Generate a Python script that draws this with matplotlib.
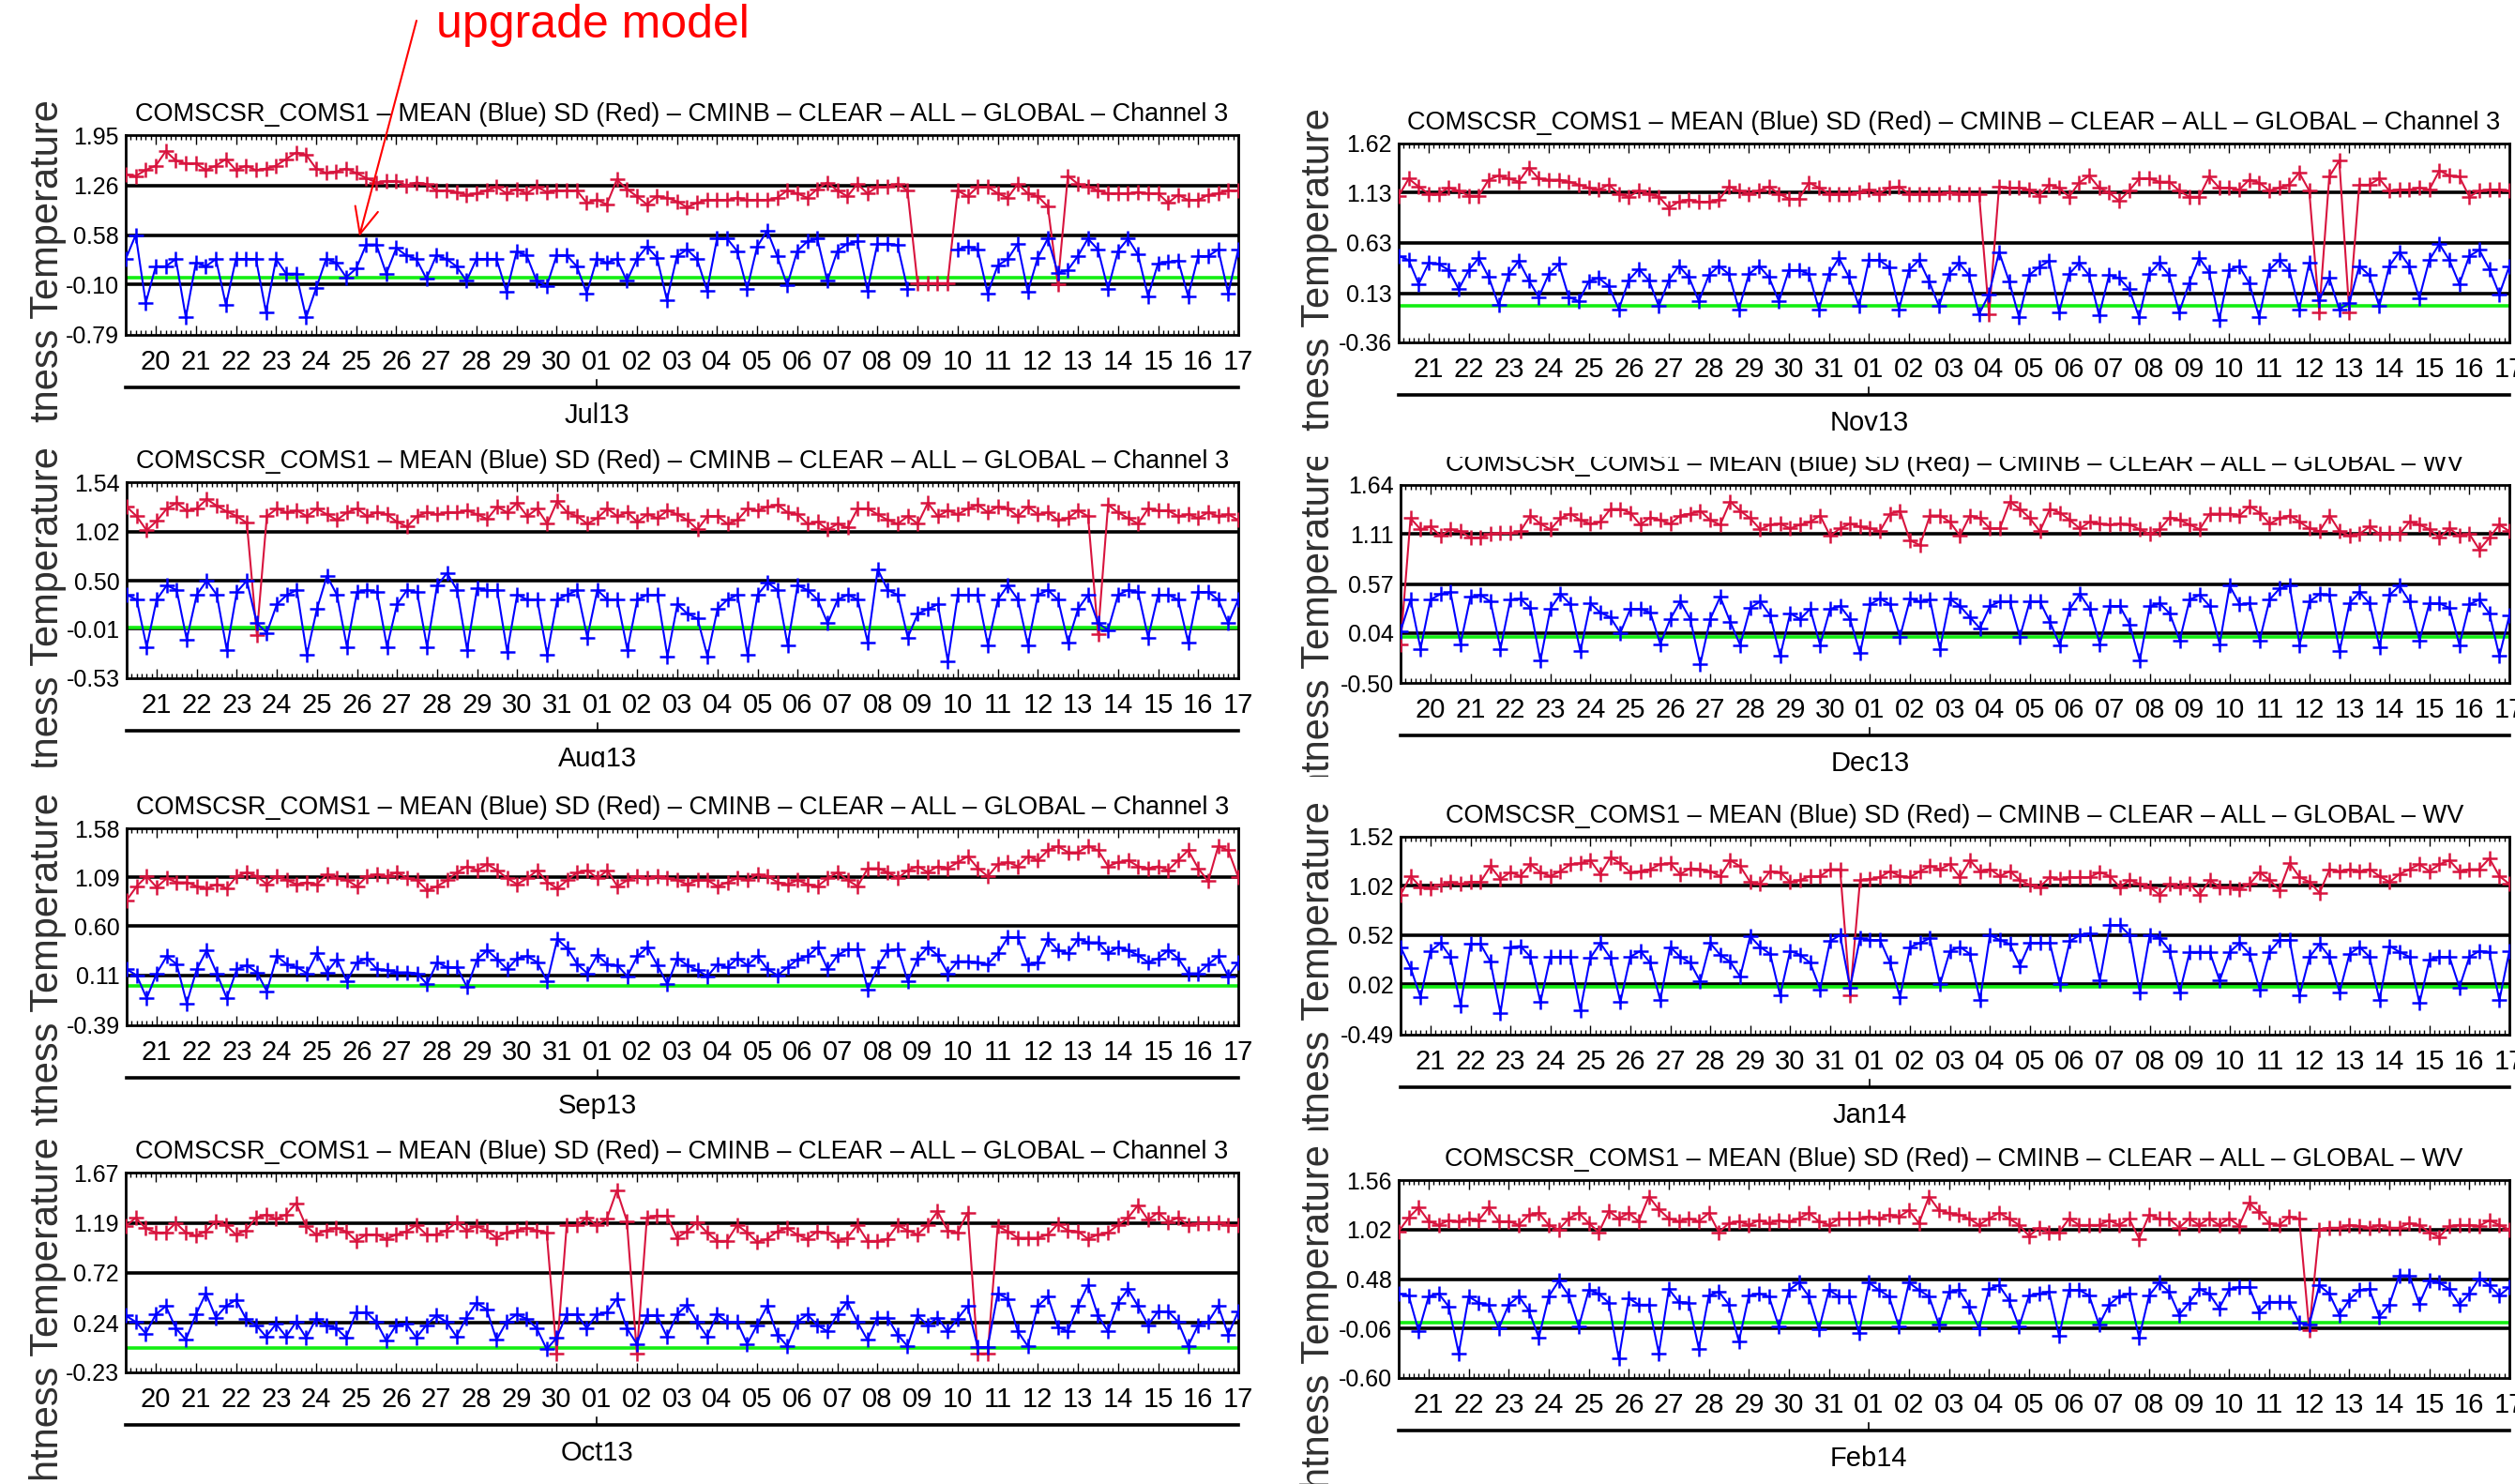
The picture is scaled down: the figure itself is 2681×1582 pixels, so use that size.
import numpy as np
import matplotlib
matplotlib.use("Agg")
import matplotlib.pyplot as plt
from matplotlib.transforms import Bbox, TransformedBbox
from matplotlib.ticker import FixedLocator, MultipleLocator

W, H, DPI = 2681, 1582, 100
IDL_FONT = ['Liberation Sans Narrow', 'Liberation Sans', 'DejaVu Sans']
LBL_FONT = ['Liberation Sans', 'DejaVu Sans']
nan = np.nan

# ---- monthly bias monitoring: 6-hourly MEAN (blue) and SD (red) ----
jul_ticks = [-0.79, -0.10, 0.58, 1.26, 1.95]
jul_mean = [
    0.25, 0.58, -0.35, 0.15, 0.15, 0.25, -0.55, 0.20, 0.15, 0.25, -0.38, 0.25, 0.25, 0.25, -0.48, 0.25,
    0.05, 0.05, -0.55, -0.15, 0.25, 0.20, 0.00, 0.12, 0.45, 0.45, 0.05, 0.40, 0.30, 0.25, -0.02, 0.30,
    0.25, 0.15, -0.05, 0.25, 0.25, 0.25, -0.20, 0.35, 0.30, -0.05, -0.12, 0.30, 0.30, 0.15, -0.22, 0.25,
    0.20, 0.25, -0.05, 0.25, 0.42, 0.27, -0.31, 0.29, 0.38, 0.25, -0.18, 0.53, 0.53, 0.36, -0.16, 0.42,
    0.64, 0.29, -0.11, 0.36, 0.49, 0.53, -0.05, 0.36, 0.46, 0.49, -0.18, 0.46, 0.46, 0.44, -0.16, nan,
    nan, nan, nan, 0.38, 0.42, 0.38, -0.22, 0.16, 0.25, 0.46, -0.20, 0.27, 0.53, 0.06, 0.10, 0.29,
    0.53, 0.38, -0.16, 0.36, 0.53, 0.31, -0.26, 0.19, 0.21, 0.23, -0.26, 0.29, 0.29, 0.38, -0.22, 0.38]
jul_sd = [
    1.41, 1.39, 1.47, 1.53, 1.73, 1.60, 1.56, 1.56, 1.47, 1.53, 1.62, 1.47, 1.53, 1.47, 1.49, 1.53,
    1.62, 1.71, 1.68, 1.49, 1.43, 1.45, 1.49, 1.43, 1.36, 1.30, 1.32, 1.32, 1.26, 1.30, 1.28, 1.19,
    1.19, 1.17, 1.13, 1.15, 1.19, 1.24, 1.15, 1.21, 1.15, 1.24, 1.17, 1.19, 1.19, 1.19, 1.02, 1.06,
    1.00, 1.34, 1.21, 1.11, 1.00, 1.11, 1.09, 1.04, 0.96, 1.02, 1.06, 1.06, 1.06, 1.09, 1.06, 1.06,
    1.06, 1.09, 1.19, 1.15, 1.09, 1.21, 1.30, 1.19, 1.11, 1.28, 1.15, 1.24, 1.24, 1.28, 1.19, -0.08,
    -0.08, -0.08, -0.08, 1.19, 1.11, 1.24, 1.24, 1.15, 1.09, 1.28, 1.15, 1.11, 0.97, -0.09, 1.39, 1.28,
    1.24, 1.19, 1.15, 1.15, 1.15, 1.17, 1.15, 1.15, 1.02, 1.13, 1.06, 1.06, 1.13, 1.15, 1.19, 1.19]

aug_ticks = [-0.53, -0.01, 0.50, 1.02, 1.54]
aug_mean = [
    0.35, 0.30, -0.20, 0.30, 0.45, 0.40, -0.12, 0.35, 0.50, 0.35, -0.23, 0.38, 0.50, 0.05, -0.05, 0.25,
    0.35, 0.40, -0.28, 0.20, 0.55, 0.35, -0.20, 0.38, 0.40, 0.38, -0.20, 0.25, 0.40, 0.38, -0.20, 0.45,
    0.58, 0.40, -0.23, 0.42, 0.40, 0.40, -0.25, 0.35, 0.30, 0.30, -0.28, 0.30, 0.35, 0.40, -0.10, 0.40,
    0.30, 0.30, -0.23, 0.30, 0.35, 0.35, -0.30, 0.25, 0.15, 0.10, -0.30, 0.20, 0.30, 0.35, -0.28, 0.35,
    0.48, 0.40, -0.18, 0.45, 0.40, 0.30, 0.05, 0.30, 0.35, 0.30, -0.15, 0.62, 0.40, 0.35, -0.10, 0.15,
    0.20, 0.25, -0.35, 0.35, 0.35, 0.35, -0.18, 0.30, 0.45, 0.30, -0.18, 0.35, 0.40, 0.30, -0.15, 0.20,
    0.35, 0.05, -0.02, 0.35, 0.40, 0.38, -0.10, 0.35, 0.35, 0.30, -0.15, 0.38, 0.38, 0.30, 0.05, 0.30]
aug_sd = [
    1.28, 1.18, 1.03, 1.13, 1.26, 1.32, 1.24, 1.26, 1.36, 1.29, 1.23, 1.18, 1.11, -0.07, 1.18, 1.26,
    1.22, 1.24, 1.18, 1.26, 1.20, 1.14, 1.22, 1.26, 1.18, 1.22, 1.20, 1.12, 1.07, 1.18, 1.22, 1.20,
    1.22, 1.22, 1.24, 1.20, 1.15, 1.28, 1.22, 1.32, 1.18, 1.26, 1.10, 1.34, 1.22, 1.18, 1.10, 1.16,
    1.26, 1.18, 1.22, 1.12, 1.20, 1.16, 1.24, 1.20, 1.14, 1.04, 1.18, 1.18, 1.10, 1.14, 1.26, 1.24,
    1.28, 1.30, 1.22, 1.20, 1.10, 1.12, 1.04, 1.10, 1.06, 1.26, 1.26, 1.20, 1.14, 1.10, 1.18, 1.10,
    1.32, 1.18, 1.24, 1.20, 1.26, 1.30, 1.22, 1.28, 1.26, 1.18, 1.28, 1.20, 1.22, 1.14, 1.16, 1.24,
    1.18, -0.06, 1.30, 1.22, 1.16, 1.10, 1.26, 1.24, 1.24, 1.18, 1.20, 1.16, 1.22, 1.18, 1.20, 1.14]

sep_ticks = [-0.39, 0.11, 0.60, 1.09, 1.58]
sep_mean = [
    0.17, 0.11, -0.12, 0.13, 0.30, 0.22, -0.17, 0.17, 0.36, 0.13, -0.12, 0.17, 0.21, 0.14, -0.05, 0.30,
    0.22, 0.19, 0.13, 0.33, 0.14, 0.27, 0.05, 0.24, 0.28, 0.17, 0.16, 0.14, 0.14, 0.13, 0.02, 0.24,
    0.19, 0.19, -0.01, 0.27, 0.36, 0.27, 0.17, 0.28, 0.30, 0.24, 0.05, 0.47, 0.38, 0.22, 0.13, 0.31,
    0.22, 0.21, 0.10, 0.30, 0.39, 0.21, 0.02, 0.28, 0.21, 0.16, 0.10, 0.22, 0.19, 0.28, 0.21, 0.30,
    0.17, 0.11, 0.19, 0.27, 0.30, 0.39, 0.17, 0.31, 0.37, 0.37, -0.03, 0.19, 0.36, 0.37, 0.05, 0.28,
    0.39, 0.31, 0.13, 0.25, 0.25, 0.24, 0.22, 0.33, 0.49, 0.49, 0.22, 0.24, 0.47, 0.36, 0.33, 0.47,
    0.44, 0.44, 0.33, 0.39, 0.36, 0.31, 0.24, 0.28, 0.36, 0.28, 0.13, 0.13, 0.22, 0.30, 0.10, 0.24]
sep_sd = [
    0.86, 1.00, 1.10, 0.99, 1.08, 1.04, 1.04, 1.00, 0.98, 1.02, 0.98, 1.10, 1.14, 1.10, 1.02, 1.10,
    1.06, 1.02, 1.04, 1.02, 1.12, 1.08, 1.06, 1.00, 1.10, 1.12, 1.10, 1.14, 1.08, 1.06, 0.96, 1.00,
    1.06, 1.14, 1.20, 1.16, 1.22, 1.16, 1.08, 1.02, 1.08, 1.16, 1.04, 0.98, 1.06, 1.14, 1.16, 1.08,
    1.16, 1.00, 1.06, 1.10, 1.08, 1.10, 1.08, 1.06, 1.02, 1.06, 1.06, 1.00, 1.04, 1.08, 1.06, 1.12,
    1.10, 1.04, 1.02, 1.06, 1.02, 1.00, 1.08, 1.14, 1.06, 1.00, 1.18, 1.18, 1.14, 1.08, 1.16, 1.20,
    1.14, 1.20, 1.18, 1.24, 1.30, 1.18, 1.10, 1.22, 1.24, 1.20, 1.30, 1.26, 1.36, 1.40, 1.34, 1.34,
    1.40, 1.36, 1.20, 1.24, 1.26, 1.20, 1.18, 1.20, 1.16, 1.26, 1.36, 1.18, 1.05, 1.40, 1.36, 1.09]

oct_ticks = [-0.23, 0.24, 0.72, 1.19, 1.67]
oct_mean = [
    0.31, 0.25, 0.14, 0.32, 0.40, 0.19, 0.08, 0.32, 0.52, 0.29, 0.40, 0.46, 0.28, 0.22, 0.11, 0.23,
    0.11, 0.25, 0.10, 0.28, 0.22, 0.19, 0.10, 0.34, 0.34, 0.25, 0.07, 0.22, 0.23, 0.10, 0.22, 0.31,
    0.25, 0.11, 0.29, 0.43, 0.37, 0.08, 0.25, 0.32, 0.28, 0.19, -0.01, 0.10, 0.32, 0.32, 0.19, 0.32,
    0.34, 0.47, 0.19, 0.04, 0.31, 0.31, 0.11, 0.32, 0.41, 0.25, 0.11, 0.32, 0.25, 0.25, 0.04, 0.22,
    0.40, 0.13, 0.02, 0.25, 0.32, 0.22, 0.16, 0.32, 0.44, 0.25, 0.08, 0.29, 0.29, 0.13, 0.02, 0.31,
    0.22, 0.29, 0.16, 0.28, 0.40, 0.01, 0.01, 0.52, 0.47, 0.16, 0.02, 0.40, 0.49, 0.20, 0.16, 0.40,
    0.60, 0.31, 0.16, 0.43, 0.56, 0.40, 0.22, 0.35, 0.35, 0.25, 0.02, 0.22, 0.25, 0.40, 0.13, 0.35]
oct_sd = [
    1.16, 1.24, 1.14, 1.10, 1.10, 1.19, 1.10, 1.07, 1.11, 1.21, 1.17, 1.08, 1.12, 1.24, 1.27, 1.23,
    1.27, 1.38, 1.16, 1.08, 1.12, 1.14, 1.11, 1.02, 1.08, 1.08, 1.04, 1.08, 1.11, 1.17, 1.08, 1.08,
    1.12, 1.20, 1.12, 1.16, 1.12, 1.05, 1.10, 1.12, 1.14, 1.12, 1.10, -0.05, 1.17, 1.17, 1.24, 1.17,
    1.23, 1.50, 1.21, -0.05, 1.24, 1.26, 1.26, 1.05, 1.11, 1.20, 1.10, 1.02, 1.02, 1.17, 1.10, 1.01,
    1.04, 1.11, 1.14, 1.08, 1.04, 1.11, 1.10, 1.02, 1.05, 1.17, 1.02, 1.02, 1.04, 1.17, 1.12, 1.08,
    1.17, 1.30, 1.12, 1.10, 1.29, -0.05, -0.05, 1.16, 1.11, 1.05, 1.05, 1.05, 1.08, 1.18, 1.12, 1.11,
    1.04, 1.08, 1.10, 1.17, 1.24, 1.36, 1.22, 1.29, 1.20, 1.24, 1.17, 1.19, 1.19, 1.20, 1.17, 1.17]

nov_ticks = [-0.36, 0.13, 0.63, 1.13, 1.62]
nov_mean = [
    0.50, 0.46, 0.22, 0.43, 0.42, 0.36, 0.17, 0.36, 0.48, 0.29, 0.01, 0.32, 0.45, 0.26, 0.09, 0.32,
    0.42, 0.09, 0.05, 0.25, 0.28, 0.20, -0.03, 0.26, 0.37, 0.26, 0.00, 0.26, 0.40, 0.29, 0.05, 0.31,
    0.40, 0.32, -0.03, 0.32, 0.40, 0.29, 0.05, 0.36, 0.36, 0.32, -0.03, 0.32, 0.48, 0.29, 0.00, 0.46,
    0.46, 0.39, -0.03, 0.36, 0.46, 0.25, 0.00, 0.32, 0.43, 0.31, -0.08, 0.12, 0.54, 0.25, -0.11, 0.31,
    0.39, 0.45, -0.06, 0.32, 0.43, 0.31, -0.09, 0.31, 0.28, 0.17, -0.11, 0.32, 0.43, 0.31, -0.06, 0.23,
    0.48, 0.34, -0.14, 0.36, 0.40, 0.23, -0.11, 0.36, 0.46, 0.36, -0.03, 0.43, 0.06, 0.28, -0.03, 0.03,
    0.40, 0.31, 0.00, 0.40, 0.54, 0.40, 0.08, 0.46, 0.62, 0.46, 0.22, 0.50, 0.56, 0.37, 0.12, 0.40]
nov_sd = [
    1.10, 1.27, 1.19, 1.12, 1.12, 1.18, 1.15, 1.10, 1.10, 1.26, 1.30, 1.27, 1.24, 1.38, 1.27, 1.26,
    1.26, 1.24, 1.21, 1.18, 1.16, 1.21, 1.12, 1.09, 1.15, 1.12, 1.09, 0.98, 1.04, 1.06, 1.04, 1.04,
    1.06, 1.19, 1.15, 1.12, 1.15, 1.19, 1.12, 1.07, 1.07, 1.23, 1.18, 1.12, 1.12, 1.12, 1.13, 1.16,
    1.12, 1.18, 1.19, 1.12, 1.12, 1.12, 1.12, 1.13, 1.12, 1.12, 1.12, -0.08, 1.19, 1.18, 1.18, 1.16,
    1.10, 1.21, 1.18, 1.09, 1.23, 1.30, 1.18, 1.13, 1.05, 1.15, 1.27, 1.27, 1.24, 1.24, 1.15, 1.09,
    1.09, 1.29, 1.18, 1.18, 1.16, 1.26, 1.23, 1.15, 1.18, 1.21, 1.33, 1.15, -0.06, 1.29, 1.45, -0.06,
    1.21, 1.21, 1.27, 1.15, 1.16, 1.16, 1.18, 1.16, 1.35, 1.30, 1.29, 1.09, 1.15, 1.16, 1.16, 1.15]

dec_ticks = [-0.50, 0.04, 0.57, 1.11, 1.64]
dec_mean = [
    0.06, 0.40, -0.13, 0.40, 0.46, 0.48, -0.08, 0.43, 0.45, 0.38, -0.13, 0.40, 0.41, 0.31, -0.26, 0.30,
    0.46, 0.35, -0.16, 0.36, 0.26, 0.21, 0.04, 0.30, 0.30, 0.26, -0.08, 0.19, 0.38, 0.19, -0.30, 0.19,
    0.43, 0.16, -0.09, 0.31, 0.38, 0.23, -0.21, 0.25, 0.19, 0.30, -0.09, 0.30, 0.33, 0.19, -0.18, 0.35,
    0.41, 0.35, 0.00, 0.41, 0.38, 0.40, -0.13, 0.41, 0.33, 0.21, 0.09, 0.33, 0.38, 0.38, 0.00, 0.38,
    0.38, 0.16, -0.09, 0.30, 0.46, 0.30, -0.08, 0.33, 0.33, 0.13, -0.26, 0.33, 0.36, 0.25, -0.04, 0.40,
    0.45, 0.33, -0.08, 0.55, 0.35, 0.36, -0.04, 0.40, 0.52, 0.55, -0.09, 0.38, 0.46, 0.45, -0.16, 0.36,
    0.48, 0.36, -0.11, 0.45, 0.55, 0.38, -0.04, 0.36, 0.36, 0.31, -0.09, 0.35, 0.40, 0.25, -0.21, 0.23]
dec_sd = [
    -0.08, 1.28, 1.16, 1.19, 1.09, 1.16, 1.14, 1.07, 1.07, 1.11, 1.12, 1.12, 1.14, 1.31, 1.22, 1.16,
    1.28, 1.33, 1.26, 1.22, 1.24, 1.38, 1.38, 1.34, 1.21, 1.29, 1.26, 1.22, 1.31, 1.33, 1.36, 1.26,
    1.21, 1.46, 1.36, 1.28, 1.16, 1.21, 1.22, 1.17, 1.21, 1.24, 1.31, 1.09, 1.17, 1.22, 1.19, 1.17,
    1.14, 1.33, 1.36, 1.04, 0.99, 1.31, 1.31, 1.24, 1.09, 1.31, 1.28, 1.17, 1.17, 1.46, 1.38, 1.28,
    1.14, 1.38, 1.34, 1.26, 1.17, 1.24, 1.22, 1.21, 1.22, 1.21, 1.16, 1.11, 1.16, 1.29, 1.26, 1.21,
    1.16, 1.33, 1.33, 1.33, 1.31, 1.41, 1.34, 1.22, 1.28, 1.31, 1.24, 1.17, 1.14, 1.31, 1.14, 1.09,
    1.11, 1.19, 1.11, 1.12, 1.11, 1.24, 1.21, 1.16, 1.07, 1.17, 1.09, 1.11, 0.94, 1.07, 1.21, 1.14]

jan_ticks = [-0.49, 0.02, 0.52, 1.02, 1.52]
jan_mean = [
    0.40, 0.19, -0.11, 0.36, 0.44, 0.30, -0.19, 0.43, 0.43, 0.25, -0.27, 0.40, 0.41, 0.30, -0.16, 0.30,
    0.30, 0.30, -0.24, 0.29, 0.44, 0.29, -0.16, 0.30, 0.36, 0.24, -0.14, 0.40, 0.30, 0.24, 0.05, 0.44,
    0.32, 0.25, 0.10, 0.51, 0.40, 0.33, -0.09, 0.36, 0.32, 0.24, -0.03, 0.46, 0.52, -0.01, 0.49, 0.47,
    0.47, 0.24, -0.11, 0.40, 0.44, 0.49, 0.02, 0.36, 0.40, 0.33, -0.14, 0.52, 0.47, 0.43, 0.21, 0.44,
    0.44, 0.44, 0.02, 0.46, 0.52, 0.54, 0.06, 0.62, 0.62, 0.52, -0.06, 0.52, 0.49, 0.36, -0.06, 0.35,
    0.35, 0.35, 0.06, 0.35, 0.44, 0.33, -0.03, 0.35, 0.47, 0.47, -0.09, 0.30, 0.43, 0.30, -0.06, 0.33,
    0.40, 0.30, -0.14, 0.41, 0.35, 0.30, -0.17, 0.27, 0.30, 0.30, -0.01, 0.30, 0.36, 0.35, -0.14, 0.36]
jan_sd = [
    0.93, 1.12, 1.01, 1.00, 1.03, 1.06, 1.04, 1.06, 1.06, 1.22, 1.09, 1.16, 1.12, 1.24, 1.16, 1.12,
    1.17, 1.24, 1.25, 1.28, 1.14, 1.31, 1.25, 1.16, 1.17, 1.19, 1.24, 1.25, 1.14, 1.20, 1.19, 1.17,
    1.12, 1.28, 1.22, 1.06, 1.04, 1.17, 1.16, 1.06, 1.08, 1.12, 1.12, 1.19, 1.19, -0.09, 1.08, 1.09,
    1.11, 1.17, 1.12, 1.11, 1.17, 1.22, 1.19, 1.24, 1.11, 1.28, 1.17, 1.19, 1.12, 1.17, 1.08, 1.03,
    1.01, 1.11, 1.09, 1.11, 1.11, 1.11, 1.16, 1.12, 1.01, 1.08, 1.04, 1.01, 0.93, 1.04, 1.01, 1.04,
    0.93, 1.08, 1.01, 1.01, 0.99, 1.04, 1.16, 1.08, 0.98, 1.25, 1.11, 1.06, 0.95, 1.19, 1.17, 1.19,
    1.17, 1.19, 1.12, 1.06, 1.14, 1.19, 1.24, 1.17, 1.24, 1.28, 1.17, 1.19, 1.19, 1.30, 1.12, 1.04]

feb_ticks = [-0.60, -0.06, 0.48, 1.02, 1.56]
feb_mean = [
    0.32, 0.30, -0.09, 0.29, 0.32, 0.18, -0.33, 0.29, 0.22, 0.20, -0.06, 0.20, 0.29, 0.14, -0.16, 0.29,
    0.46, 0.30, -0.04, 0.36, 0.32, 0.22, -0.39, 0.27, 0.20, 0.20, -0.33, 0.37, 0.23, 0.22, -0.28, 0.30,
    0.34, 0.20, -0.20, 0.30, 0.32, 0.29, -0.04, 0.36, 0.44, 0.29, -0.07, 0.36, 0.29, 0.29, -0.11, 0.44,
    0.36, 0.29, -0.04, 0.44, 0.36, 0.29, -0.02, 0.34, 0.36, 0.18, -0.06, 0.37, 0.41, 0.25, -0.04, 0.30,
    0.32, 0.34, -0.14, 0.36, 0.36, 0.30, -0.02, 0.20, 0.29, 0.32, -0.16, 0.30, 0.44, 0.34, 0.09, 0.22,
    0.37, 0.32, 0.16, 0.37, 0.39, 0.39, 0.12, 0.23, 0.23, 0.23, 0.00, -0.02, 0.41, 0.32, 0.09, 0.25,
    0.36, 0.37, 0.07, 0.20, 0.52, 0.52, 0.21, 0.46, 0.44, 0.37, 0.20, 0.32, 0.49, 0.41, 0.30, 0.39]
feb_sd = [
    1.00, 1.15, 1.26, 1.11, 1.07, 1.12, 1.11, 1.14, 1.12, 1.26, 1.11, 1.11, 1.07, 1.18, 1.20, 1.07,
    1.02, 1.14, 1.20, 1.09, 0.99, 1.22, 1.14, 1.20, 1.11, 1.38, 1.24, 1.14, 1.11, 1.14, 1.11, 1.20,
    0.99, 1.09, 1.11, 1.07, 1.12, 1.09, 1.12, 1.11, 1.14, 1.20, 1.11, 1.07, 1.14, 1.14, 1.14, 1.16,
    1.14, 1.18, 1.16, 1.23, 1.09, 1.38, 1.23, 1.20, 1.18, 1.14, 1.07, 1.14, 1.20, 1.14, 1.07, 0.95,
    1.04, 0.99, 0.99, 1.14, 1.07, 1.07, 1.07, 1.12, 1.07, 1.14, 0.92, 1.18, 1.14, 1.14, 1.04, 1.14,
    1.07, 1.14, 1.07, 1.14, 1.06, 1.31, 1.21, 1.09, 1.07, 1.16, 1.14, -0.08, 1.02, 1.04, 1.04, 1.07,
    1.06, 1.04, 1.07, 1.04, 1.04, 1.09, 1.07, 0.99, 0.94, 1.06, 1.07, 1.07, 1.06, 1.12, 1.07, 1.02]

# first labelled day and length of the preceding month for each window
months = ['Jul13', 'Aug13', 'Sep13', 'Oct13', 'Nov13', 'Dec13', 'Jan14', 'Feb14']
first_day = [20, 21, 21, 20, 21, 20, 21, 21]
prev_len = [30, 31, 31, 30, 31, 30, 31, 31]
channel = ['Channel 3'] * 5 + ['WV'] * 3
mean_series = [jul_mean, aug_mean, sep_mean, oct_mean, nov_mean, dec_mean, jan_mean, feb_mean]
sd_series = [jul_sd, aug_sd, sep_sd, oct_sd, nov_sd, dec_sd, jan_sd, feb_sd]
y_ticks = [jul_ticks, aug_ticks, sep_ticks, oct_ticks, nov_ticks, dec_ticks, jan_ticks, feb_ticks]

# panel layout in pixels from the top-left corner: axes box and crop window
axes_box = [(134, 144, 1320, 357), (135, 514, 1320, 723), (135, 883, 1320, 1093), (134, 1250, 1320, 1463),
            (1491, 153, 2675, 365), (1493, 517, 2675, 728), (1493, 892, 2675, 1103), (1491, 1258, 2675, 1469)]
crop_box = [(0, 95, 1350, 452), (0, 452, 1350, 818), (0, 818, 1350, 1200), (0, 1200, 1350, 1582),
            (1370, 95, 2681, 462), (1370, 487, 2681, 828), (1370, 828, 2681, 1205), (1370, 1205, 2681, 1582)]
ylabel_x = [51] * 4 + [1406] * 4

fig = plt.figure(figsize=(W / DPI, H / DPI), dpi=DPI)
fig.patch.set_facecolor('white')


def crop_clip(box):
    x0, y0, x1, y1 = box
    return TransformedBbox(Bbox.from_extents(x0 / W, 1 - y1 / H, x1 / W, 1 - y0 / H), fig.transFigure)


axes = []
for k in range(8):
    x0, y0, x1, y1 = axes_box[k]
    hpx = y1 - y0
    ax = fig.add_axes([x0 / W, 1 - y1 / H, (x1 - x0) / W, hpx / H])
    axes.append(ax)
    clip = crop_clip(crop_box[k])

    mean = np.array(mean_series[k], dtype=float)
    sd = np.array(sd_series[k], dtype=float)
    assert len(mean) == 112 and len(sd) == 112, (months[k], len(mean), len(sd))
    t = -0.75 + 0.25 * np.arange(len(mean))

    ticks = y_ticks[k]
    for v in ticks[1:4]:
        ax.axhline(v, color='black', lw=2.6, zorder=1)
    ax.axhline(0.0, color='#12ee12', lw=2.6, zorder=1.5)

    ax.plot(t, sd, color='#d8143e', lw=1.5, marker='+', ms=11, mew=1.8, zorder=3)
    ax.plot(t, mean, color='#0000ff', lw=1.5, marker='+', ms=11, mew=1.8, zorder=3)

    ax.set_xlim(-0.75, 27)
    ax.set_ylim(ticks[0], ticks[-1])

    day_labels = ['%02d' % d for d in list(range(first_day[k], prev_len[k] + 1)) + list(range(1, 18))]
    ax.xaxis.set_major_locator(FixedLocator(range(len(day_labels))))
    ax.xaxis.set_minor_locator(MultipleLocator(0.125))
    ax.set_xticklabels(day_labels, fontfamily=IDL_FONT, fontsize=21)
    ax.tick_params(axis='x', which='both', direction='in', top=True, bottom=True, width=1.0, pad=11)
    ax.tick_params(axis='x', which='major', length=7)
    ax.tick_params(axis='x', which='minor', length=3.5)

    ax.set_yticks(ticks)
    ax.set_yticklabels(['%.2f' % v for v in ticks], fontfamily=IDL_FONT, fontsize=18)
    ax.tick_params(axis='y', length=0, pad=5)
    for s in ax.spines.values():
        s.set_linewidth(2.0)

    title = ('COMSCSR_COMS1 \u2013 MEAN (Blue) SD (Red) \u2013 CMINB \u2013 CLEAR \u2013 ALL '
             '\u2013 GLOBAL \u2013 ' + channel[k])
    tt = ax.text(0.5, 1 + 22 / hpx, title, transform=ax.transAxes, ha='center', va='center',
                 fontfamily=IDL_FONT, fontsize=19.5)
    tt.set_clip_box(clip)
    tt.set_clip_on(True)

    # month rule with a tick at the first of the month
    xf = ax.get_xaxis_transform()
    yr = -56 / hpx
    ax.plot([-0.75, 27], [yr, yr], transform=xf, color='black', lw=2.6, clip_on=False)
    ax.plot([11, 11], [yr, yr + 8 / hpx], transform=xf, color='black', lw=1.2, clip_on=False)
    mt = ax.text(11, -86 / hpx, months[k], transform=xf, ha='center', va='center',
                 fontfamily=IDL_FONT, fontsize=21)
    mt.set_clip_box(clip)
    mt.set_clip_on(True)

    yl = fig.text(ylabel_x[k] / W, 1 - (y0 - 38) / H, 'Brightness Temperature', rotation=90,
                  ha='center', va='top', fontfamily=LBL_FONT, fontsize=30, color='#303030')
    yl.set_clip_box(clip)
    yl.set_clip_on(True)

fig.text(465 / W, 1 - 27 / H, 'upgrade model', color='#ff0000', fontfamily=LBL_FONT,
         fontsize=36, ha='left', va='center')
axes[0].annotate('', xy=(383, H - 252), xycoords='figure pixels', xytext=(444, H - 22),
                 textcoords='figure pixels', annotation_clip=False,
                 arrowprops=dict(arrowstyle='->,head_length=1.0,head_width=0.45', color='#ff0000',
                                 lw=1.5, mutation_scale=20, shrinkA=0, shrinkB=0))

fig.savefig('out.png', dpi=DPI, facecolor='white')
